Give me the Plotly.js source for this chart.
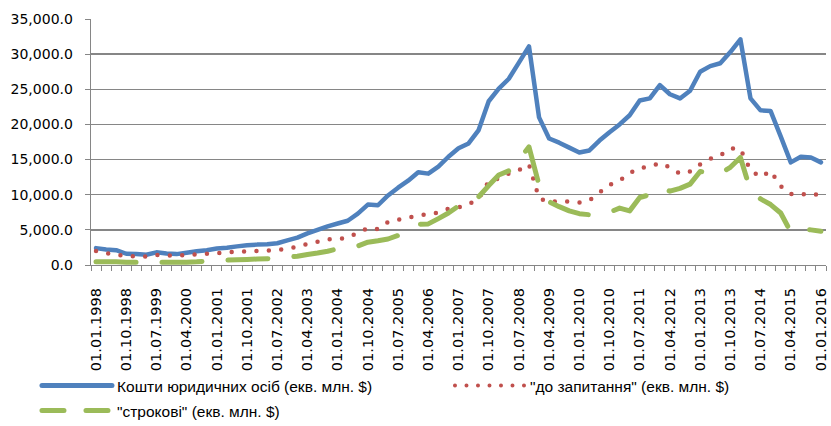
<!DOCTYPE html>
<html>
<head>
<meta charset="utf-8">
<script src="https://cdn.plot.ly/plotly-3.0.1.min.js"></script>
<style>
  html, body { margin: 0; padding: 0; background: #fff; }
  #chart { width: 831px; height: 426px; }
  .js-plotly-plot .plotly path.js-line { stroke-linecap: round !important; stroke-linejoin: round !important; }
</style>
</head>
<body>
<div id="chart"></div>
<script>
// Quarterly dates
const dates = [
  "01.01.1998","01.04.1998","01.07.1998","01.10.1998",
  "01.01.1999","01.04.1999","01.07.1999","01.10.1999",
  "01.01.2000","01.04.2000","01.07.2000","01.10.2000",
  "01.01.2001","01.04.2001","01.07.2001","01.10.2001",
  "01.01.2002","01.04.2002","01.07.2002","01.10.2002",
  "01.01.2003","01.04.2003","01.07.2003","01.10.2003",
  "01.01.2004","01.04.2004","01.07.2004","01.10.2004",
  "01.01.2005","01.04.2005","01.07.2005","01.10.2005",
  "01.01.2006","01.04.2006","01.07.2006","01.10.2006",
  "01.01.2007","01.04.2007","01.07.2007","01.10.2007",
  "01.01.2008","01.04.2008","01.07.2008","01.10.2008",
  "01.01.2009","01.04.2009","01.07.2009","01.10.2009",
  "01.01.2010","01.04.2010","01.07.2010","01.10.2010",
  "01.01.2011","01.04.2011","01.07.2011","01.10.2011",
  "01.01.2012","01.04.2012","01.07.2012","01.10.2012",
  "01.01.2013","01.04.2013","01.07.2013","01.10.2013",
  "01.01.2014","01.04.2014","01.07.2014","01.10.2014",
  "01.01.2015","01.04.2015","01.07.2015","01.10.2015",
  "01.01.2016"
];

const tickLabels = [
  "01.01.1998","01.10.1998","01.07.1999","01.04.2000","01.01.2001",
  "01.10.2001","01.07.2002","01.04.2003","01.01.2004","01.10.2004",
  "01.07.2005","01.04.2006","01.01.2007","01.10.2007","01.07.2008",
  "01.04.2009","01.01.2010","01.10.2010","01.07.2011","01.04.2012",
  "01.01.2013","01.10.2013","01.07.2014","01.04.2015","01.01.2016"
];

// Кошти юридичних осіб (екв. млн. $)
const legalEntities = [
  2400, 2200, 2100, 1600, 1550, 1450, 1800, 1650, 1550, 1750,
  1950, 2100, 2350, 2450, 2650, 2800, 2900, 2950, 3100, 3500,
  3900, 4500, 5000, 5500, 5900, 6300, 7300, 8600, 8500, 9900,
  11000, 12000, 13200, 13000, 14000, 15400, 16600, 17300, 19200, 23300,
  25100, 26500, 28800, 31100, 21000, 18000, 17400, 16700, 16000, 16300,
  17700, 18900, 20000, 21300, 23400, 23700, 25600, 24300, 23700, 24800,
  27500, 28300, 28700, 30300, 32100, 23700, 22000, 21900, 18300, 14600,
  15400, 15300, 14600
];

// "до запитання" (екв. млн. $)
const demand = [
  2000, 1700, 1450, 1300, 1200, 1200, 1450, 1350, 1350, 1400,
  1500, 1600, 1700, 1800, 1900, 1950, 2000, 2050, 2150, 2300,
  2600, 3000, 3300, 3650, 3700, 3900, 4600, 5250, 5100, 6100,
  6450, 6750, 7000, 7250, 7450, 8000, 8200, 8650, 9400, 11900,
  12300, 13000, 13500, 14300, 9500, 8950, 9100, 9000, 8900, 9200,
  10300, 11400, 12000, 13100, 13800, 14000, 14500, 13900, 13000, 13300,
  14300, 15100, 15600, 16600, 16500, 13500, 12500, 13400, 11200, 10100,
  10000, 10200, 9850
];

// "строкові" (екв. млн. $)
const term = [
  450, 450, 450, 400, 400, 350, 400, 400, 400, 400,
  450, 550, 650, 700, 750, 800, 850, 900, 950, 1100,
  1250, 1500, 1700, 1950, 2300, 2500, 2700, 3250, 3450, 3700,
  4200, 5000, 5800, 5850, 6600, 7400, 8400, 8700, 9700, 11300,
  12800, 13400, 15000, 16800, 11400, 9000, 8300, 7700, 7300, 7150,
  7300, 7500, 8100, 7700, 9600, 10000, 11000, 10500, 10900, 11500,
  13300, 13100, 13000, 13900, 15300, 10600, 9400, 8600, 7400, 4700,
  5200, 5000, 4800
];

const names = [
  "Кошти юридичних осіб (екв. млн. $)",
  "\"до запитання\" (екв. млн. $)",
  "\"строкові\" (екв. млн. $)"
];

const xIdx = dates.map((d, i) => i);
const tickIdx = tickLabels.map(t => dates.indexOf(t));

const BLUE = "#4F81BD", RED = "#C0504D", GREEN = "#9BBB59";

const traces = [
  {x: xIdx, y: legalEntities, mode: "lines", showlegend: false, hoverinfo: "skip",
   line: {color: BLUE, width: 4.5, simplify: false}},
  {x: xIdx, y: demand, mode: "lines", showlegend: false, hoverinfo: "skip",
   line: {color: RED, width: 4.5, dash: "0px,12.4px", simplify: false}},
  {x: xIdx, y: term, mode: "lines", showlegend: false, hoverinfo: "skip",
   line: {color: GREEN, width: 5, dash: "40px,26px", simplify: false}},
  // legend entries
  {x: [null], y: [null], mode: "lines", name: names[0], legend: "legend",
   line: {color: BLUE, width: 5}},
  {x: [null], y: [null], mode: "lines", name: names[1], legend: "legend2",
   line: {color: RED, width: 4, dash: "0px,11.5px"}},
  {x: [null], y: [null], mode: "lines", name: names[2], legend: "legend3",
   line: {color: GREEN, width: 5, dash: "22px,22px"}}
];

const legendFont = {family: "Liberation Sans, Arial, sans-serif", size: 15.5, color: "#000"};
const legBase = {orientation: "h", xanchor: "left", yanchor: "middle", itemwidth: 70,
  xref: "container", yref: "container",
  font: legendFont, bgcolor: "rgba(0,0,0,0)", borderwidth: 0};

const layout = {
  width: 831, height: 426,
  margin: {l: 91, r: 5, t: 19, b: 161},
  paper_bgcolor: "#fff", plot_bgcolor: "#fff",
  font: {family: "DejaVu Sans, sans-serif", color: "#000"},
  xaxis: {
    range: [-0.5, 72.5],
    tickmode: "array", tickvals: tickIdx, ticktext: tickLabels,
    tickangle: -90, ticks: "",
    tickfont: {family: "DejaVu Sans, sans-serif", size: 14.5, color: "#000"},
    ticklabelstandoff: 16,
    showgrid: false, zeroline: false,
    showline: true, linecolor: "#868686", linewidth: 1.3,
    minor: {tick0: 0.5, dtick: 1, ticks: "outside", ticklen: 5, tickcolor: "#868686", tickwidth: 1, showgrid: false}
  },
  yaxis: {
    range: [0, 35000], dtick: 5000, tick0: 0,
    tickformat: ",.1f",
    tickfont: {family: "DejaVu Sans, sans-serif", size: 14, color: "#000"},
    ticks: "outside", ticklen: 5, tickcolor: "#868686", tickwidth: 1,
    ticklabelstandoff: 9,
    showgrid: true, gridcolor: "#868686", gridwidth: 1.3,
    zeroline: false, showline: true, linecolor: "#868686", linewidth: 1.3
  },
  legend: Object.assign({}, legBase, {x: 0.0445, y: 0.0939}),
  legend2: Object.assign({}, legBase, {x: 0.5415, y: 0.0939}),
  legend3: Object.assign({}, legBase, {x: 0.0445, y: 0.0352}),
  showlegend: true
};

Plotly.newPlot("chart", traces, layout, {displayModeBar: false, staticPlot: true});
</script>
</body>
</html>
